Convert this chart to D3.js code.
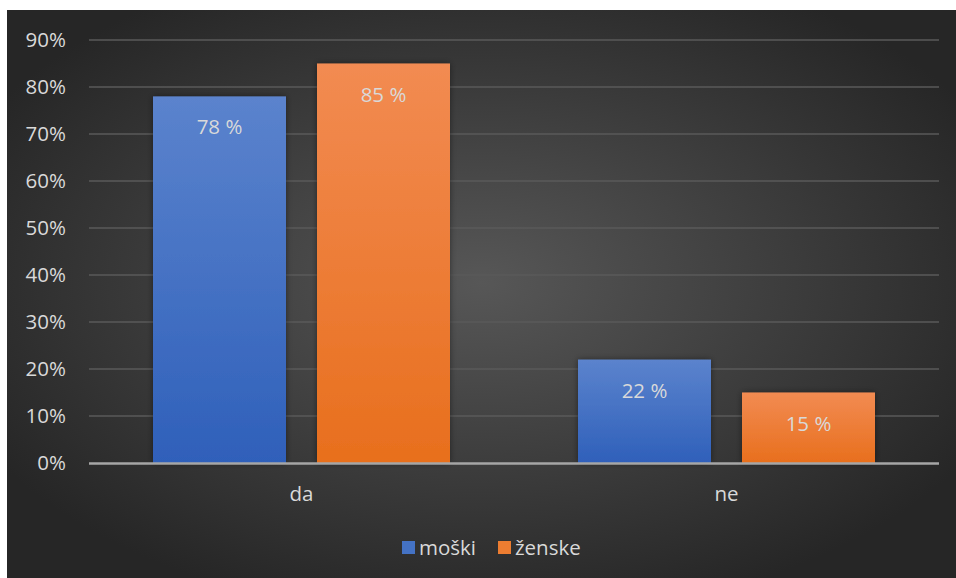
<!DOCTYPE html>
<html><head><meta charset="utf-8">
<script src="https://cdn.jsdelivr.net/npm/d3@7"></script>
<style>html,body{margin:0;padding:0;background:#fff;}svg{display:block;}</style>
</head><body>
<svg id="c" width="956" height="578"></svg>
<script>
const categories = ["da", "ne"];
const seriesNames = ["moški", "ženske"];
const moski = [78, 22];
const zenske = [85, 15];
const yTicks = [0, 10, 20, 30, 40, 50, 60, 70, 80, 90];

(function () {
const svg = d3.select("#c");
const W = 956, H = 578;
const font = "'Open Sans', sans-serif";
const fs = 20.5;
const defs = svg.append("defs");
const rg = defs.append("radialGradient").attr("id", "bg").attr("cx", "50%").attr("cy", "48%").attr("r", "60%");
rg.append("stop").attr("offset", "0%").attr("stop-color", "#575757");
rg.append("stop").attr("offset", "100%").attr("stop-color", "#262626");
const gb = defs.append("linearGradient").attr("id", "gBlue").attr("x1", 0).attr("y1", 0).attr("x2", 0).attr("y2", 1);
gb.append("stop").attr("offset", "0%").attr("stop-color", "#5b83cd");
gb.append("stop").attr("offset", "100%").attr("stop-color", "#2f60ba");
const go = defs.append("linearGradient").attr("id", "gOrange").attr("x1", 0).attr("y1", 0).attr("x2", 0).attr("y2", 1);
go.append("stop").attr("offset", "0%").attr("stop-color", "#f28b52");
go.append("stop").attr("offset", "100%").attr("stop-color", "#e86f1d");
const sh = defs.append("filter").attr("id", "sh").attr("x", "-20%").attr("y", "-20%").attr("width", "140%").attr("height", "140%");
sh.append("feDropShadow").attr("dx", 0).attr("dy", 0).attr("stdDeviation", 3).attr("flood-color", "#000").attr("flood-opacity", 0.45);

svg.append("rect").attr("x", 7).attr("y", 10).attr("width", W - 7).attr("height", H - 10).attr("fill", "url(#bg)");

const pL = 89, pR = 939, pT = 40, pB = 463;
const y = d3.scaleLinear().domain([0, 90]).range([pB, pT]);
const x0 = d3.scaleBand().domain(categories).range([pL, pR]);
const barW = 133, gap = 31;

svg.append("g").selectAll("line").data(yTicks.filter(t => t > 0)).join("line")
  .attr("x1", pL).attr("x2", pR).attr("y1", d => y(d)).attr("y2", d => y(d))
  .attr("stroke", "#5a5a5a").attr("stroke-width", 1.3);

const yAxis = d3.axisLeft(y).tickValues(yTicks).tickFormat(d => d + "%").tickSize(0).tickPadding(0);
const ya = svg.append("g").attr("transform", `translate(66,0)`).call(yAxis);
ya.select(".domain").remove();
ya.selectAll("text").attr("fill", "#d9d9d9").attr("font-size", fs).attr("font-family", font);

const series = [
  {name: seriesNames[0], values: moski, fill: "url(#gBlue)", sw: "#4472c4", off: -(barW + gap) / 2},
  {name: seriesNames[1], values: zenske, fill: "url(#gOrange)", sw: "#ed7d31", off: (barW + gap) / 2}
];

series.forEach(s => {
  const g = svg.append("g");
  g.selectAll("rect").data(categories).join("rect")
    .attr("x", (c) => x0(c) + x0.bandwidth() / 2 + s.off - barW / 2)
    .attr("width", barW)
    .attr("y", (c, i) => y(s.values[i]))
    .attr("height", (c, i) => pB - y(s.values[i]))
    .attr("fill", s.fill).attr("filter", "url(#sh)");
  g.selectAll("text").data(categories).join("text")
    .attr("x", (c) => x0(c) + x0.bandwidth() / 2 + s.off)
    .attr("y", (c, i) => y(s.values[i]) + 38)
    .attr("text-anchor", "middle").attr("fill", "#d9d9d9")
    .attr("font-size", fs).attr("font-family", font)
    .text((c, i) => s.values[i] + " %");
});

svg.append("line").attr("x1", pL).attr("x2", pR).attr("y1", pB + 0.5).attr("y2", pB + 0.5)
  .attr("stroke", "#a6a6a6").attr("stroke-width", 2.5);

const xAxis = d3.axisBottom(x0).tickSize(0).tickPadding(0);
const xa = svg.append("g").attr("transform", `translate(0,${pB + 38})`).call(xAxis);
xa.select(".domain").remove();
xa.selectAll("text").attr("fill", "#d9d9d9").attr("font-size", fs).attr("font-family", font).attr("dy", 0);

const leg = svg.append("g");
const legItems = [{x: 402, s: series[0]}, {x: 498, s: series[1]}];
legItems.forEach(it => {
  leg.append("rect").attr("x", it.x).attr("y", 541).attr("width", 13).attr("height", 13).attr("fill", it.s.sw);
  leg.append("text").attr("x", it.x + 17).attr("y", 555).attr("fill", "#d9d9d9")
    .attr("font-size", fs).attr("font-family", font).text(it.s.name);
});
})();
</script>
</body></html>
